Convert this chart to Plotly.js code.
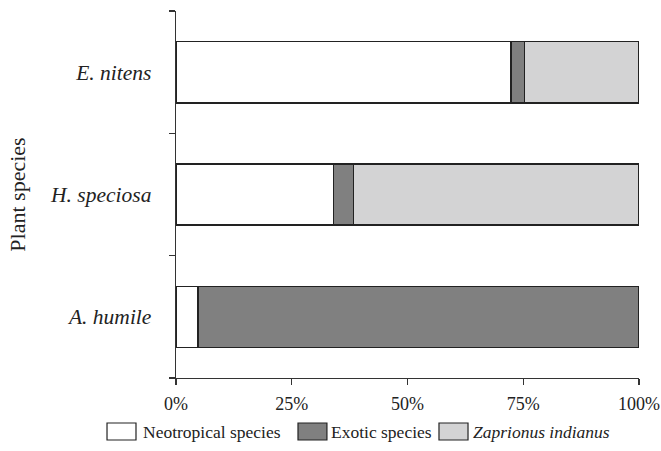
<!DOCTYPE html>
<html>
<head>
<meta charset="utf-8">
<script src="https://cdn.plot.ly/plotly-3.0.1.min.js"></script>
<style>html,body{margin:0;padding:0;background:#fff;}#chart{width:661px;height:451px;}</style>
</head>
<body>
<div id="chart"></div>
<script>
// Data (percent of individuals per plant species)
const plants = ["A. humile", "H. speciosa", "E. nitens"];
const seriesNames = ["Neotropical species", "Exotic species", "Zaprionus indianus"];
const neotropical = [4.8, 34.0, 72.3];
const exotic = [95.2, 4.3, 3.0];
const zaprionus = [0.0, 61.7, 24.7];
const seriesColors = ["#ffffff", "#808080", "#d3d3d4"];
const xTickVals = [0, 25, 50, 75, 100];
const xTickText = ["0%", "25%", "50%", "75%", "100%"];

const serif = "Liberation Serif, Times New Roman, serif";
const values = [neotropical, exotic, zaprionus];

const traces = values.map((v, i) => ({
  type: "bar",
  orientation: "h",
  y: plants,
  x: v,
  name: seriesNames[i],
  marker: {color: seriesColors[i], line: {color: "#222", width: 1.5}},
  width: 0.5,
  hoverinfo: "skip",
  showlegend: false
}));

// Custom legend (large swatches like the reference)
const boxX = [[-0.149, -0.0864], [0.2635, 0.326], [0.568, 0.6307]];
const textX = [-0.0756, 0.3305, 0.637];
const shapes = boxX.map((b, i) => ({
  type: "rect", xref: "paper", yref: "paper",
  x0: b[0], x1: b[1], y0: -0.169, y1: -0.1226,
  fillcolor: seriesColors[i], line: {color: "#222", width: 1.2}
}));
const annotations = seriesNames.map((n, i) => ({
  xref: "paper", yref: "paper", x: textX[i], y: -0.1458,
  xanchor: "left", yanchor: "middle", showarrow: false,
  text: i === 2 ? "<i>" + n + "</i>" : n,
  font: {family: serif, size: 17.5, color: "#222"}
}));

const layout = {
  width: 661, height: 451,
  margin: {l: 176, r: 22, t: 11, b: 73},
  barmode: "stack",
  paper_bgcolor: "#fff", plot_bgcolor: "#fff",
  font: {family: serif, color: "#222"},
  xaxis: {
    range: [0, 100], tickvals: xTickVals, ticktext: xTickText,
    showgrid: false, zeroline: false, showline: true, linecolor: "#333", linewidth: 1.3,
    ticks: "outside", ticklen: 6, tickcolor: "#333", tickwidth: 1.3,
    ticklabelstandoff: 3,
    tickfont: {family: serif, size: 18, color: "#222"}, fixedrange: true
  },
  yaxis: {
    type: "category", categoryorder: "array", categoryarray: plants,
    range: [-0.5, 2.5],
    tickvals: plants, ticktext: plants.map(p => "<i>" + p + "</i>"),
    tickson: "boundaries",
    showgrid: false, zeroline: false, showline: true, linecolor: "#333", linewidth: 1.3,
    ticks: "outside", ticklen: 6, tickcolor: "#333", tickwidth: 1.3,
    ticklabelstandoff: 19,
    tickfont: {family: serif, size: 21.5, color: "#222"},
    title: {text: "Plant species", font: {family: serif, size: 22, color: "#222"}, standoff: 18},
    fixedrange: true
  },
  shapes: shapes,
  annotations: annotations,
  showlegend: false
};

Plotly.newPlot("chart", traces, layout, {displayModeBar: false, staticPlot: true});
</script>
</body>
</html>
